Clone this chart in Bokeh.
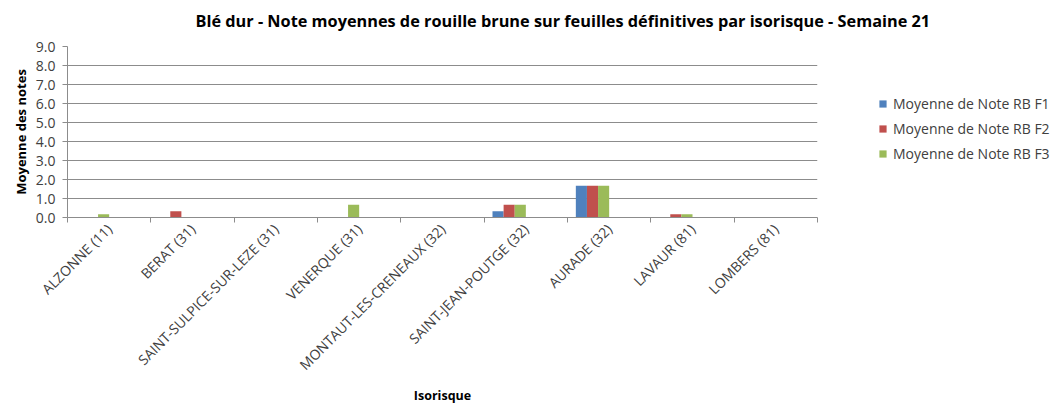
import math
import numpy as np
from bokeh.plotting import figure
from bokeh.models import (Range1d, FixedTicker, PrintfTickFormatter, Legend, LegendItem,
                          ColumnDataSource, Title)
from bokeh.embed import file_html
from bokeh.resources import INLINE

categories = ["ALZONNE (11)", "BERAT (31)", "SAINT-SULPICE-SUR-LEZE (31)", "VENERQUE (31)",
              "MONTAUT-LES-CRENEAUX (32)", "SAINT-JEAN-POUTGE (32)", "AURADE (32)",
              "LAVAUR (81)", "LOMBERS (81)"]
note_f1 = [0.0, 0.0, 0.0, 0.0, 0.0, 0.33, 1.67, 0.0, 0.0]
note_f2 = [0.0, 0.33, 0.0, 0.0, 0.0, 0.67, 1.67, 0.17, 0.0]
note_f3 = [0.17, 0.0, 0.0, 0.67, 0.0, 0.67, 1.67, 0.17, 0.0]
series_names = ["Moyenne de Note RB F1", "Moyenne de Note RB F2", "Moyenne de Note RB F3"]
series_colors = ["#4F81BD", "#C0504D", "#9BBB59"]
y_ticks = [0, 1, 2, 3, 4, 5, 6, 7, 8, 9]

FONT = "Open Sans"
TXT = "#404040"
GRID = "#8c8c8c"

n = len(categories)
p = figure(width=1058, height=403, frame_width=750, frame_height=171,
           x_range=Range1d(0, n), y_range=Range1d(0, 9),
           output_backend="svg", toolbar_location=None,
           min_border_left=67, min_border_top=46, min_border_right=241, min_border_bottom=150)
p.outline_line_color = None

# Excel-like layout: 6 slots per category (3 visible series), gap width 150%
slot = 1.0 / 7.5
start = 0.75 * slot
renderers = []
for k, (vals, col) in enumerate(zip([note_f1, note_f2, note_f3], series_colors)):
    xs = np.arange(n) + start + (k + 0.5) * slot
    src = ColumnDataSource(dict(x=xs, top=vals))
    r = p.vbar(x="x", top="top", width=slot, bottom=0, source=src,
               fill_color=col, line_color=None)
    renderers.append(r)

# x axis
xa = p.xaxis[0]
xa.ticker = FixedTicker(ticks=[i + 0.5 for i in range(n)], minor_ticks=list(range(n + 1)))
xa.major_label_overrides = {i + 0.5: c for i, c in enumerate(categories)}
xa.major_label_orientation = math.pi / 4
xa.major_tick_line_color = None
xa.minor_tick_line_color = GRID
xa.minor_tick_in = 0
xa.minor_tick_out = 5
xa.axis_line_color = GRID
xa.major_label_text_font = FONT
xa.major_label_text_font_size = "14px"
xa.major_label_text_color = TXT
xa.major_label_standoff = 3
xa.axis_label = "Isorisque"
xa.axis_label_text_font = FONT
xa.axis_label_text_font_style = "bold"
xa.axis_label_text_font_size = "12.5px"
xa.axis_label_text_color = "#000000"
xa.axis_label_standoff = 3
p.xgrid.visible = False

# y axis
ya = p.yaxis[0]
ya.ticker = FixedTicker(ticks=y_ticks)
ya.formatter = PrintfTickFormatter(format="%.1f")
ya.major_tick_line_color = GRID
ya.major_tick_in = 0
ya.major_tick_out = 5
ya.minor_tick_line_color = None
ya.axis_line_color = GRID
ya.major_label_text_font = FONT
ya.major_label_text_font_size = "14px"
ya.major_label_text_color = TXT
ya.major_label_standoff = 7
ya.axis_label = "Moyenne des notes"
ya.axis_label_text_font = FONT
ya.axis_label_text_font_style = "bold"
ya.axis_label_text_font_size = "13px"
ya.axis_label_text_color = "#000000"
ya.axis_label_standoff = 3
p.ygrid.ticker = FixedTicker(ticks=y_ticks)
p.ygrid.grid_line_color = GRID

# small spacer panel between the frame and the title
p.add_layout(Title(text=" ", text_font=FONT, text_font_size="5px", standoff=0), "above")
# title
p.add_layout(Title(text="Blé dur - Note moyennes de rouille brune sur feuilles définitives par isorisque - Semaine 21",
                   text_font=FONT, text_font_style="bold", text_font_size="16.3px",
                   text_color="#000000", align="left", offset=128, standoff=10,
                   vertical_align="top"), "above")

legend = Legend(items=[LegendItem(label=nm, renderers=[r]) for nm, r in zip(series_names, renderers)],
                location=(61, 54), border_line_color=None, background_fill_alpha=0,
                label_text_font=FONT, label_text_font_size="14px", label_text_color=TXT,
                glyph_width=9, glyph_height=9, label_height=20, spacing=5, padding=10,
                label_standoff=6)
p.add_layout(legend, "right")

open("out.html", "w").write(file_html(p, INLINE))
